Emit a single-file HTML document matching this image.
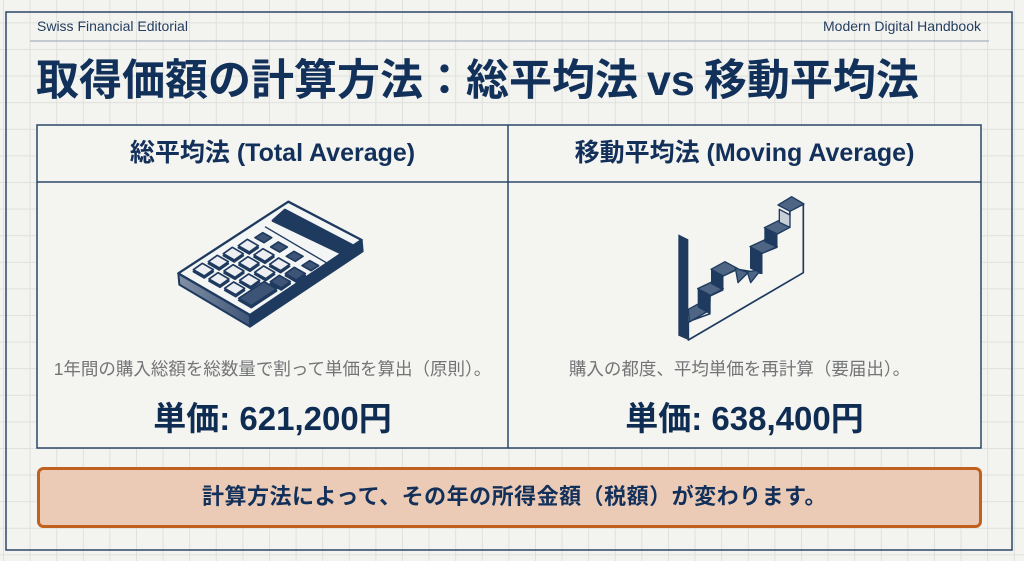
<!DOCTYPE html>
<html><head><meta charset="utf-8">
<style>
html,body{margin:0;padding:0;}
body{width:1024px;height:561px;position:relative;overflow:hidden;background:#f3f3ef;font-family:"Liberation Sans","Noto Sans CJK JP",sans-serif;}
.t{position:absolute;white-space:nowrap;}
.c{text-align:center;}
</style></head>
<body>
<svg width="1024" height="561" style="position:absolute;left:0;top:0">
<defs>
<pattern id="g" width="26.6" height="26.6" patternUnits="userSpaceOnUse" x="3" y="22.4">
<path d="M0.5 0 V26.6 M0 0.5 H26.6" stroke="#dfe1dd" stroke-width="1" fill="none"/>
</pattern>
<linearGradient id="sg" x1="0" y1="0" x2="1" y2="0">
<stop offset="0" stop-color="#8391a6"/><stop offset="1" stop-color="#3f5577"/>
</linearGradient>
</defs>
<rect width="1024" height="561" fill="#f3f3ef"/>
<rect width="1024" height="561" fill="url(#g)"/>
<rect x="6" y="12" width="1006" height="538" fill="none" stroke="#2c4668" stroke-width="1.5"/>
<line x1="30" y1="41" x2="989" y2="41" stroke="#95a2b4" stroke-width="1"/>
<rect x="37" y="125" width="944" height="323" fill="#f4f4f0" stroke="#2c4668" stroke-width="1.5"/>
<line x1="37" y1="182" x2="981" y2="182" stroke="#2c4668" stroke-width="1.5"/>
<line x1="508" y1="125" x2="508" y2="448" stroke="#2c4668" stroke-width="1.5"/>
<rect x="38.5" y="468.5" width="942" height="58" rx="5" fill="#ebcbb5" stroke="#c0611f" stroke-width="3"/>

<!-- calculator -->
<g transform="translate(150,190) scale(0.3333)" stroke-linejoin="round">
<polygon points="85,250 300,375 300,410 88,284" fill="url(#sg)" stroke="#1e3a5f" stroke-width="6"/>
<polygon points="300,375 635,150 638,184 300,410" fill="#1e3a5f" stroke="#1e3a5f" stroke-width="6"/>
<polygon points="85,250 415,35 635,150 300,375" fill="#f4f5f5" stroke="#1e3a5f" stroke-width="7"/>
<line x1="345" y1="110" x2="532" y2="220" stroke="#1e3a5f" stroke-width="4"/>
<polygon points="405,60 606,165 570,188 369,92" fill="#1e3a5f" stroke="#1e3a5f" stroke-width="8"/>
<!-- row1 dark small keys -->
<g fill="#3d5477" stroke="#1e3a5f" stroke-width="5">
<polygon transform="translate(340,143)" points="-25,0 -2,-15 25,0 2,15"/>
<polygon transform="translate(387,171)" points="-25,0 -2,-15 25,0 2,15"/>
<polygon transform="translate(434,199)" points="-25,0 -2,-15 25,0 2,15"/>
<polygon transform="translate(481,227)" points="-25,0 -2,-15 25,0 2,15"/>
</g>
<!-- key shadows -->
<g fill="#1e3a5f" stroke="#1e3a5f" stroke-width="5">
<polygon transform="translate(295,173)" points="-30,0 -3,-19 30,0 3,19"/>
<polygon transform="translate(342,201)" points="-30,0 -3,-19 30,0 3,19"/>
<polygon transform="translate(389,229)" points="-30,0 -3,-19 30,0 3,19"/>
<polygon transform="translate(436,257)" points="-30,0 -3,-19 30,0 3,19"/>
<polygon transform="translate(250,197)" points="-30,0 -3,-19 30,0 3,19"/>
<polygon transform="translate(297,225)" points="-30,0 -3,-19 30,0 3,19"/>
<polygon transform="translate(344,253)" points="-30,0 -3,-19 30,0 3,19"/>
<polygon transform="translate(391,281)" points="-30,0 -3,-19 30,0 3,19"/>
<polygon transform="translate(205,221)" points="-30,0 -3,-19 30,0 3,19"/>
<polygon transform="translate(252,249)" points="-30,0 -3,-19 30,0 3,19"/>
<polygon transform="translate(299,277)" points="-30,0 -3,-19 30,0 3,19"/>
<polygon transform="translate(160,245)" points="-30,0 -3,-19 30,0 3,19"/>
<polygon transform="translate(207,273)" points="-30,0 -3,-19 30,0 3,19"/>
<polygon transform="translate(254,301)" points="-30,0 -3,-19 30,0 3,19"/>
<polygon transform="translate(323,317)" points="-57,14 19,-36 57,-14 -19,36"/>
</g>
<g fill="#eceef1" stroke="#1e3a5f" stroke-width="5">
<polygon transform="translate(295,167)" points="-30,0 -3,-19 30,0 3,19"/>
<polygon transform="translate(342,195)" points="-30,0 -3,-19 30,0 3,19"/>
<polygon transform="translate(389,223)" points="-30,0 -3,-19 30,0 3,19"/>
<polygon transform="translate(436,251)" points="-30,0 -3,-19 30,0 3,19" fill="#3d5477"/>
<polygon transform="translate(250,191)" points="-30,0 -3,-19 30,0 3,19"/>
<polygon transform="translate(297,219)" points="-30,0 -3,-19 30,0 3,19"/>
<polygon transform="translate(344,247)" points="-30,0 -3,-19 30,0 3,19"/>
<polygon transform="translate(391,275)" points="-30,0 -3,-19 30,0 3,19" fill="#3d5477"/>
<polygon transform="translate(205,215)" points="-30,0 -3,-19 30,0 3,19"/>
<polygon transform="translate(252,243)" points="-30,0 -3,-19 30,0 3,19"/>
<polygon transform="translate(299,271)" points="-30,0 -3,-19 30,0 3,19"/>
<polygon transform="translate(160,239)" points="-30,0 -3,-19 30,0 3,19"/>
<polygon transform="translate(207,267)" points="-30,0 -3,-19 30,0 3,19"/>
<polygon transform="translate(254,295)" points="-30,0 -3,-19 30,0 3,19"/>
<polygon transform="translate(323,311)" points="-57,14 19,-36 57,-14 -19,36" fill="#3d5477"/>
</g>
</g>

<!-- staircase -->
<g transform="translate(650,190) scale(0.3333)" stroke-linejoin="round">
<polygon points="115,450 460,248 460,42 420,62 418,112 380,132 380,172 335,190 335,250 262,238 218,258 218,300 180,318 178,372 115,395" fill="#f5f5f2" stroke="#1e3a5f" stroke-width="5"/>
<polygon points="85,133 115,148 115,450 85,437" fill="#1e3a5f"/>
<polygon points="115,358 148,340 180,360 118,396" fill="#4f6584" stroke="#1e3a5f" stroke-width="4"/>
<polygon points="143,296 182,316 182,374 143,352" fill="#1e3a5f"/>
<polygon points="143,296 185,276 220,296 182,316" fill="#4f6584" stroke="#1e3a5f" stroke-width="4"/>
<polygon points="183,238 220,258 220,302 183,282" fill="#1e3a5f"/>
<polygon points="183,238 225,215 264,236 220,258" fill="#4f6584" stroke="#1e3a5f" stroke-width="4"/>
<polygon points="256,234 294,248 264,278" fill="#4f6584" stroke="#1e3a5f" stroke-width="4"/>
<polygon points="292,246 334,238 302,278" fill="#4f6584" stroke="#1e3a5f" stroke-width="4"/>
<polygon points="300,170 337,190 337,252 300,236" fill="#1e3a5f"/>
<polygon points="300,170 345,149 382,170 337,190" fill="#4f6584" stroke="#1e3a5f" stroke-width="4"/>
<polygon points="343,113 382,132 382,174 343,156" fill="#1e3a5f"/>
<polygon points="343,113 385,92 420,112 382,132" fill="#4f6584" stroke="#1e3a5f" stroke-width="4"/>
<polygon points="388,58 420,75 420,112 388,97" fill="#c9ced7" stroke="#1e3a5f" stroke-width="4"/>
<polygon points="384,45 425,20 462,42 420,64" fill="#4f6584" stroke="#1e3a5f" stroke-width="4"/>
</g>
</svg>

<div class="t" style="left:37px;top:19px;font-size:14px;line-height:14px;color:#243d60;">Swiss Financial Editorial</div>
<div class="t" style="right:43px;top:19px;font-size:14px;line-height:14px;color:#243d60;">Modern Digital Handbook</div>

<div class="t" style="left:36px;top:60px;font-size:43px;line-height:43px;font-weight:bold;color:#11305a;">取得価額の計算方法：総平均法<span style="margin:0 9px;">vs</span>移動平均法</div>

<div class="t c" style="left:37px;width:471px;top:141px;font-size:25px;line-height:25px;font-weight:bold;color:#13305a;">総平均法 (Total Average)</div>
<div class="t c" style="left:508px;width:473px;top:141px;font-size:25px;line-height:25px;font-weight:bold;color:#13305a;">移動平均法 (Moving Average)</div>

<div class="t c" style="left:37px;width:471px;top:361px;font-size:17.5px;line-height:17px;color:#727476;">1年間の購入総額を総数量で割って単価を算出（原則）。</div>
<div class="t c" style="left:508px;width:463px;top:361px;font-size:17.5px;line-height:17px;color:#727476;">購入の都度、平均単価を再計算（要届出）。</div>

<div class="t c" style="left:37px;width:471px;top:402px;font-size:33px;line-height:33px;font-weight:bold;color:#0f2c52;">単価: 621,200円</div>
<div class="t c" style="left:508px;width:473px;top:402px;font-size:33px;line-height:33px;font-weight:bold;color:#0f2c52;">単価: 638,400円</div>

<div class="t c" style="left:37px;width:955px;top:486px;font-size:22px;line-height:22px;font-weight:bold;letter-spacing:0.5px;color:#13305a;">計算方法によって、その年の所得金額（税額）が変わります。</div>
</body></html>
